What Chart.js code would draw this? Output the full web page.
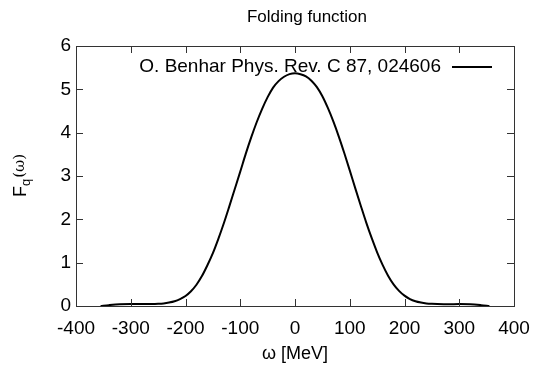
<!DOCTYPE html>
<html>
<head>
<meta charset="utf-8">
<script src="https://cdn.jsdelivr.net/npm/chart.js@4"></script>
<style>
  html, body { margin: 0; padding: 0; background: #fff; }
  #wrap { width: 535px; height: 365px; }
</style>
</head>
<body>
<div id="wrap"><canvas id="fold"></canvas></div>
<script>
// values
const omega = [-355, -340, -320, -300, -280, -260, -250, -240, -230, -220, -210,
  -200, -190, -180, -170, -160, -150, -140, -130, -120, -110,
  -100, -90, -80, -70, -60, -50, -40, -30, -20, -10,
  0, 10, 20, 30, 40, 50, 60, 70, 80, 90,
  100, 110, 120, 130, 140, 150, 160, 170, 180, 190,
  200, 210, 220, 230, 240, 250, 260, 280, 300, 320, 340, 355];
const foldF = [0.00, 0.02, 0.04, 0.045, 0.045, 0.045, 0.05, 0.06, 0.08, 0.11, 0.16,
  0.23, 0.34, 0.49, 0.69, 0.94, 1.22, 1.55, 1.91, 2.30, 2.70,
  3.10, 3.51, 3.89, 4.24, 4.55, 4.82, 5.04, 5.19, 5.29, 5.35,
  5.37, 5.35, 5.30, 5.20, 5.05, 4.84, 4.57, 4.26, 3.91, 3.53,
  3.13, 2.72, 2.32, 1.93, 1.57, 1.24, 0.95, 0.70, 0.50, 0.35,
  0.24, 0.16, 0.11, 0.08, 0.06, 0.05, 0.045, 0.04, 0.045, 0.04, 0.02, 0.00];
const xTicks = [-400, -300, -200, -100, 0, 100, 200, 300, 400];
const yTicks = [0, 1, 2, 3, 4, 5, 6];

const seriesLabel = 'O. Benhar Phys. Rev. C 87, 024606';
const FONT = '"Liberation Sans", Arial, sans-serif';

// gnuplot-like frame, inward ticks, title, key and y label
const gnuplotLook = {
  id: 'gnuplotLook',
  afterDraw(chart) {
    const { ctx, chartArea: a, scales } = chart;
    ctx.save();
    ctx.strokeStyle = '#333';
    ctx.lineWidth = 1;
    ctx.strokeRect(a.left + 0.5, a.top + 0.5, a.right - a.left, a.bottom - a.top);
    ctx.beginPath();
    xTicks.forEach(v => {
      const px = Math.round(scales.x.getPixelForValue(v)) + 0.5;
      ctx.moveTo(px, a.bottom); ctx.lineTo(px, a.bottom - 7);
      ctx.moveTo(px, a.top); ctx.lineTo(px, a.top + 7);
    });
    yTicks.forEach(v => {
      const py = Math.round(scales.y.getPixelForValue(v)) + 0.5;
      ctx.moveTo(a.left, py); ctx.lineTo(a.left + 7, py);
      ctx.moveTo(a.right, py); ctx.lineTo(a.right - 7, py);
    });
    ctx.stroke();

    ctx.fillStyle = '#000';
    // title
    ctx.font = '17px ' + FONT;
    ctx.textAlign = 'center';
    ctx.textBaseline = 'middle';
    ctx.fillText('Folding function', 307, 17);

    // key
    ctx.font = '19px ' + FONT;
    ctx.textAlign = 'right';
    ctx.fillText(chart.data.datasets[0].label, 441, 67);
    ctx.strokeStyle = '#000';
    ctx.lineWidth = 2;
    ctx.beginPath();
    ctx.moveTo(452, 67); ctx.lineTo(492, 67);
    ctx.stroke();

    // y axis label F_q(ω)
    ctx.translate(21, (a.top + a.bottom) / 2);
    ctx.rotate(-Math.PI / 2);
    ctx.textAlign = 'left';
    ctx.textBaseline = 'middle';
    ctx.font = '18px ' + FONT;
    const wF = ctx.measureText('F').width;
    ctx.font = '13px ' + FONT;
    const wq = ctx.measureText('q').width;
    ctx.font = '15px "DejaVu Serif", serif';
    const wR = ctx.measureText('(ω)').width;
    let x0 = -(wF + wq + wR) / 2;
    ctx.font = '18px ' + FONT;
    ctx.fillText('F', x0, 0);
    ctx.font = '13px ' + FONT;
    ctx.fillText('q', x0 + wF, 5);
    ctx.font = '15px "DejaVu Serif", serif';
    ctx.fillText('(ω)', x0 + wF + wq + 1, -1);
    ctx.restore();
  }
};

new Chart(document.getElementById('fold'), {
  type: 'line',
  data: {
    datasets: [{
      label: seriesLabel,
      data: omega.map((w, i) => ({ x: w, y: foldF[i] })),
      borderColor: '#000',
      borderWidth: 2,
      pointRadius: 0,
      cubicInterpolationMode: 'monotone',
      fill: false
    }]
  },
  options: {
    responsive: true,
    maintainAspectRatio: false,
    animation: false,
    layout: { padding: { top: 46, right: 21, left: 0, bottom: 0 } },
    plugins: {
      legend: { display: false },
      title: { display: false },
      tooltip: { enabled: false }
    },
    scales: {
      x: {
        type: 'linear',
        min: -400,
        max: 400,
        afterBuildTicks: s => { s.ticks = xTicks.map(v => ({ value: v })); },
        afterFit: s => { s.height = 59; s.paddingLeft = 0; s.paddingRight = 0; },
        grid: { display: false, drawTicks: false },
        border: { display: false },
        ticks: { color: '#000', padding: 11, maxRotation: 0, font: { family: FONT, size: 19 } },
        title: {
          display: true,
          text: 'ω [MeV]',
          color: '#000',
          padding: { top: 2, bottom: 0 },
          font: { family: FONT, size: 18 }
        }
      },
      y: {
        min: 0,
        max: 6,
        afterBuildTicks: s => { s.ticks = yTicks.map(v => ({ value: v })); },
        afterFit: s => { s.width = 76; },
        grid: { display: false, drawTicks: false },
        border: { display: false },
        ticks: { color: '#000', padding: 5, font: { family: FONT, size: 19 } }
      }
    }
  },
  plugins: [gnuplotLook]
});
</script>
</body>
</html>
